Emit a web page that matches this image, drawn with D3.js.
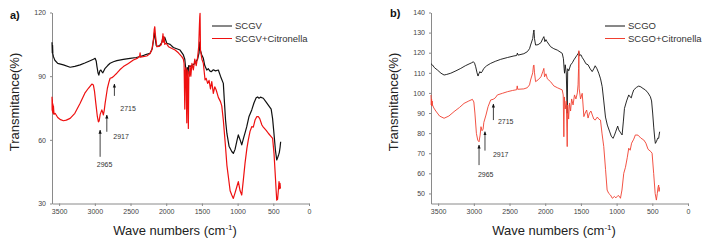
<!DOCTYPE html>
<html>
<head>
<meta charset="utf-8">
<script src="https://cdn.jsdelivr.net/npm/d3@7"></script>
<style>
  body { margin: 0; background: #fff; }
  svg { display: block; font-family: "Liberation Sans", Arial, sans-serif; }
</style>
</head>
<body>
<svg id="chart"></svg>
<script>
// wave number (cm-1), transmitance (%)
const scgv = [[3600,106],[3596,101],[3592,104.5],[3588,100.5],[3580,99.2],[3560,97.5],[3520,96],[3440,95.3],[3346,94.2],[3280,94.6],[3206,95.3],[3140,96.2],[3066,97.3],[3020,98],[2996,98.4],[2980,97],[2970,94.5],[2955,91.5],[2944,90.5],[2930,92.5],[2916,92.9],[2900,92],[2888,91.6],[2870,92.8],[2856,93.7],[2820,95],[2786,96.1],[2740,96.8],[2692,97.3],[2600,97.9],[2506,98.4],[2420,98.8],[2366,99.2],[2300,100],[2226,100.8],[2195,103],[2175,108],[2165,110.5],[2155,108],[2140,104.5],[2120,104],[2090,104.5],[2060,106],[2045,108.6],[2035,107.5],[2020,108.3],[1992,105.5],[1946,105],[1900,103.5],[1806,102.3],[1760,100],[1740,98],[1725,93],[1712,90],[1705,94],[1695,91],[1685,95],[1666,94.5],[1640,95],[1600,96],[1560,98],[1540,101],[1530,106],[1520,102],[1502,100],[1480,98.4],[1460,95],[1432,92.9],[1410,93.5],[1390,92.5],[1370,92.1],[1340,93],[1310,92.5],[1270,92.9],[1240,90],[1200,86.6],[1185,78],[1169,69.3],[1150,63],[1120,57],[1082,54.5],[1060,53.6],[1036,55.5],[1010,59.5],[990,62.3],[965,60],[942,57.6],[915,61],[890,64],[872,66.2],[840,71],[802,74.1],[770,77.5],[740,79.8],[720,80.2],[700,79.6],[680,80.1],[640,79.6],[600,77.8],[570,76.4],[530,74.5],[510,70],[495,64.6],[470,55],[452,50.5],[440,51.5],[425,53],[416,54],[405,56.5],[397,59.1]];

const scgvCitronella = [[3600,80.3],[3598,74],[3595,79],[3592,73],[3588,77],[3584,72.5],[3580,76],[3572,72],[3556,72.5],[3520,70.5],[3480,69.5],[3440,69],[3400,69.3],[3346,70.1],[3280,72.5],[3206,77.2],[3140,82],[3090,84.3],[3042,86.3],[3020,85.8],[3005,83],[2986,77.2],[2965,71],[2950,68.5],[2940,68.8],[2925,72],[2902,74.1],[2890,73],[2880,71.7],[2868,74],[2856,77.2],[2824,84.3],[2800,87.5],[2786,89],[2760,89.3],[2740,89.8],[2720,90.5],[2692,91.4],[2650,93],[2600,94.5],[2530,96],[2460,97.6],[2400,98.5],[2372,99.5],[2366,101],[2360,99],[2272,99.5],[2230,100.5],[2202,102.3],[2180,107],[2168,112],[2160,113.3],[2150,109],[2132,103.9],[2100,104],[2070,104.8],[2055,107],[2045,110],[2040,106],[2030,108.5],[2020,105],[2000,105.5],[1968,103.9],[1920,103],[1876,102.3],[1830,101],[1782,99.2],[1760,98],[1750,96],[1740,74.5],[1735,92],[1725,94],[1712,68],[1705,93],[1696,84],[1690,65.4],[1683,92],[1675,90],[1666,95],[1655,90],[1640,96],[1620,93],[1600,98],[1580,95],[1560,99],[1545,104],[1535,114],[1530,118],[1526,119.6],[1520,102],[1500,98],[1480,96],[1456,88.2],[1440,89],[1420,86.6],[1400,88],[1380,84],[1362,87.4],[1340,81.9],[1320,85],[1300,83.5],[1270,80],[1240,78],[1222,76],[1200,69.3],[1170,57],[1150,48],[1130,42.7],[1105,36],[1082,34],[1060,32.4],[1036,35],[1010,38],[990,40.3],[965,36],[942,34],[920,41],[896,49],[870,56],[850,60],[826,64],[802,66.2],[780,66],[756,69.3],[730,71],[710,70.9],[690,70],[660,67],[640,66],[600,64.5],[570,63.1],[530,61.5],[510,60.7],[490,53.6],[470,42],[460,36],[452,31.6],[440,32],[430,36],[420,40.3],[412,37],[406,39.5],[400,37]];

const scgo = [[3600,114.5],[3579,113.9],[3550,112.5],[3510,111.4],[3460,109.8],[3417,108.9],[3380,109.2],[3323,109.8],[3250,111],[3183,112.2],[3120,113.5],[3067,114.4],[3030,115],[3006,115.5],[2990,114.8],[2974,113],[2955,110],[2941,108.4],[2930,109.5],[2915,110.6],[2900,109.9],[2885,110.5],[2860,112.2],[2820,113.5],[2764,114.7],[2700,115.7],[2624,116.7],[2530,117.6],[2438,118.4],[2400,118.6],[2390,119.8],[2380,118.8],[2300,119.5],[2251,120.5],[2220,122],[2205,123.8],[2175,127],[2165,130],[2158,131.3],[2150,127],[2135,123.8],[2100,124],[2060,125],[2035,127],[2019,128],[2005,125.5],[1990,126.5],[1975,125.5],[1925,123],[1880,122],[1831,121.3],[1762,119.7],[1745,117],[1735,112],[1729,109.8],[1720,114],[1705,110],[1692,89.9],[1685,112],[1670,111],[1645,113.9],[1620,115],[1599,116.4],[1560,118.5],[1540,119.5],[1529,120.5],[1520,118.5],[1500,119],[1480,117.5],[1459,116.4],[1430,114.5],[1400,114],[1370,112],[1342,110.6],[1320,112],[1300,113.5],[1275,112],[1250,109.8],[1225,107],[1202,103.1],[1180,96],[1156,88],[1130,84],[1100,81],[1075,78.5],[1050,77.4],[1030,79],[1010,81],[985,83.5],[970,81.6],[950,80.5],[923,79.1],[905,86],[890,92.3],[860,96],[830,99],[810,98],[795,97.5],[780,99.5],[760,101.5],[720,102.8],[690,103.4],[660,103],[630,102.2],[597,101.5],[560,100],[527,98.1],[510,96],[495,90],[480,83],[465,77],[457,74.9],[440,76],[425,77.5],[411,77.4],[405,79],[397,80.7]];

const scgoCitronella = [[3600,99],[3596,94],[3592,97],[3588,93.5],[3584,96],[3579,94],[3560,92.5],[3533,91],[3480,88.5],[3417,87.4],[3350,88.5],[3277,90.7],[3200,92.8],[3137,94.8],[3070,96],[3020,96.8],[3000,95.5],[2985,90],[2964,79.9],[2945,76.5],[2927,75.7],[2912,79],[2900,83.2],[2885,81.2],[2870,82],[2860,85.3],[2830,89],[2801,93.1],[2764,96.5],[2730,96.8],[2700,97.5],[2670,99],[2600,99.8],[2530,100.6],[2460,101.2],[2400,101.6],[2392,103.5],[2385,101.8],[2300,102],[2251,102.6],[2220,104],[2205,106.4],[2175,110],[2165,113.5],[2158,113.9],[2150,110],[2135,105.6],[2100,106.5],[2060,108],[2035,110.5],[2019,112.2],[2010,108],[1990,109.5],[1970,107],[1925,105.6],[1880,103.5],[1831,102.6],[1762,101.5],[1748,99],[1739,78.2],[1732,98],[1720,92],[1705,96],[1692,73.3],[1685,94],[1672,87],[1660,95],[1645,91],[1630,97],[1610,94],[1590,99],[1570,97],[1550,100],[1540,104],[1533,112],[1529,121],[1524,102],[1505,97],[1482,99.8],[1470,94],[1459,88.2],[1440,90],[1420,91.5],[1400,87.5],[1380,90],[1360,91],[1340,89],[1320,87],[1300,86.5],[1270,88],[1250,87],[1226,86.5],[1205,80],[1180,73.3],[1155,62],[1133,51.7],[1110,50],[1086,49.2],[1060,47.6],[1030,48.5],[1010,47.8],[980,49],[960,48.5],[946,47.6],[925,51.7],[900,60],[876,63],[850,68],[830,72.5],[810,71.5],[790,75],[760,77],[737,79.1],[700,79],[660,77.5],[620,76.6],[590,75],[560,72],[520,70.8],[503,70],[481,60],[460,50],[443,46.7],[430,50],[420,53],[411,54.2],[405,51],[400,53]];

const xTicks = [3500, 3000, 2500, 2000, 1500, 1000, 500, 0];
const yTicksA = [30, 60, 90, 120];
const yTicksB = [50, 60, 70, 80, 90, 100, 110, 120, 130, 140];

// label, arrow wave number, arrow tail / head (%), label wave number, label baseline (%)
const notesA = [
  ['2715', 2726, 80.7, 86.3, 2534, 73.6],
  ['2917', 2832, 63.8, 71.7, 2632, 60.6],
  ['2965', 2926, 52.0, 64.6, 2863, 47.4]
];
const notesB = [
  ['2715', 2726, 86.5, 94.5, 2554, 84.5],
  ['2917', 2844, 71.3, 80.7, 2624, 68.1],
  ['2965', 2927, 64.1, 74.1, 2834, 58.2]
];

const svg = d3.select('#chart').attr('width', 707).attr('height', 243);

svg.append('defs').append('marker')
  .attr('id', 'head')
  .attr('viewBox', '0 0 10 10')
  .attr('refX', 9).attr('refY', 5)
  .attr('markerWidth', 5).attr('markerHeight', 5)
  .attr('orient', 'auto')
  .append('path')
  .attr('d', 'M0,1 L10,5 L0,9 Z')
  .attr('fill', '#111');

function drawPanel(opt) {
  const x = d3.scaleLinear().domain([3600, 0]).range([opt.left, opt.left + 257]);
  const y = d3.scaleLinear().domain(opt.yDomain).range([203.5, 12.5]);
  const g = svg.append('g');

  const xAxis = g.append('g')
    .attr('transform', 'translate(0,203.5)')
    .call(d3.axisBottom(x).tickValues(xTicks).tickFormat(d3.format('d'))
      .tickSize(2.5).tickSizeOuter(0).tickPadding(3));
  const yAxis = g.append('g')
    .attr('transform', `translate(${opt.left},0)`)
    .call(d3.axisLeft(y).tickValues(opt.yTicks).tickFormat(d3.format('d'))
      .tickSize(2).tickSizeOuter(0).tickPadding(4));

  [xAxis, yAxis].forEach(a => {
    a.select('.domain').attr('stroke', '#8a8a8a');
    a.selectAll('.tick line').attr('stroke', '#8a8a8a');
    a.selectAll('.tick text').attr('fill', '#444').style('font-size', '7px')
      .style('font-family', '"Liberation Sans", Arial, sans-serif');
  });

  const line = d3.line().x(d => x(d[0])).y(d => y(d[1]));

  g.append('path').datum(opt.black)
    .attr('fill', 'none').attr('stroke', '#111').attr('stroke-width', opt.lw)
    .attr('stroke-linejoin', 'round').attr('d', line);
  g.append('path').datum(opt.red)
    .attr('fill', 'none').attr('stroke', opt.redColor).attr('stroke-width', opt.lw)
    .attr('stroke-linejoin', 'round').attr('d', line);

  // arrows pointing at the bands
  opt.notes.forEach(n => {
    g.append('line')
      .attr('x1', x(n[1])).attr('x2', x(n[1]))
      .attr('y1', y(n[2])).attr('y2', y(n[3]))
      .attr('stroke', '#111').attr('stroke-width', 0.8)
      .attr('marker-end', 'url(#head)');
    g.append('text')
      .attr('x', x(n[4])).attr('y', y(n[5]))
      .attr('text-anchor', 'middle')
      .attr('fill', '#333').style('font-size', '7px')
      .text(n[0]);
  });

  // legend
  opt.legend.forEach((name, i) => {
    const ly = 26 + i * 12.5;
    g.append('line')
      .attr('x1', opt.legendX).attr('x2', opt.legendX + 20)
      .attr('y1', ly).attr('y2', ly)
      .attr('stroke', i === 0 ? '#111' : opt.redColor).attr('stroke-width', 1);
    g.append('text')
      .attr('x', opt.legendX + 23).attr('y', ly + 3.4)
      .attr('fill', '#333').style('font-size', '9.5px')
      .text(name);
  });

  g.append('text')
    .attr('x', opt.tagX).attr('y', opt.tagY)
    .style('font-size', '11px').style('font-weight', 'bold')
    .attr('fill', '#111')
    .text(opt.tag);

  g.append('text')
    .attr('transform', `translate(${opt.left - 33},102) rotate(-90)`)
    .attr('text-anchor', 'middle')
    .attr('fill', '#222').style('font-size', '13px')
    .text('Transmitance(%)');

  const xl = g.append('text')
    .attr('x', opt.left + 123).attr('y', 235)
    .attr('text-anchor', 'middle')
    .attr('fill', '#222').style('font-size', '13px');
  xl.append('tspan').text('Wave numbers (cm');
  xl.append('tspan').attr('dy', -5).style('font-size', '8px').text('-1');
  xl.append('tspan').attr('dy', 5).text(')');
}

drawPanel({
  left: 52, yDomain: [30, 120], yTicks: yTicksA,
  black: scgv, red: scgvCitronella, redColor: '#ee1010', lw: 1.2,
  notes: notesA, legend: ['SCGV', 'SCGV+Citronella'], legendX: 212,
  tag: 'a)', tagX: 10, tagY: 19
});

drawPanel({
  left: 431, yDomain: [45, 140], yTicks: yTicksB,
  black: scgo, red: scgoCitronella, redColor: '#f04030', lw: 0.9,
  notes: notesB, legend: ['SCGO', 'SCGO+Citronella'], legendX: 605,
  tag: 'b)', tagX: 390, tagY: 17
});
</script>
</body>
</html>
